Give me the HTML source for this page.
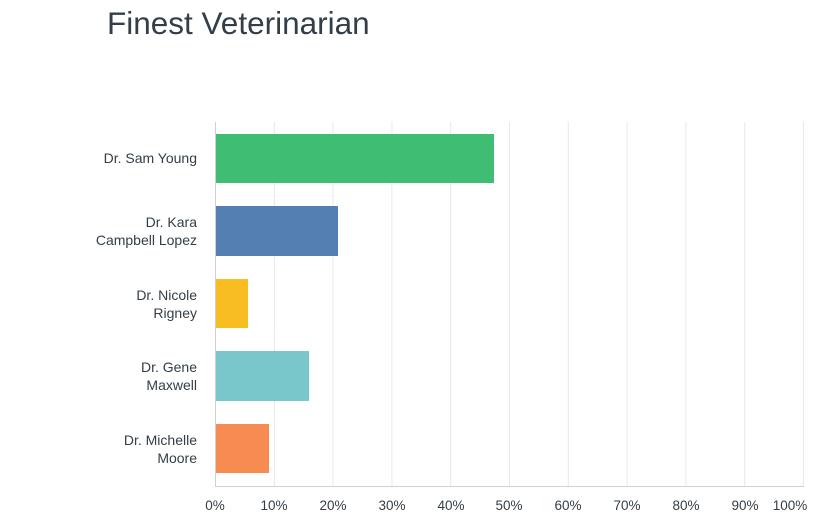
<!DOCTYPE html>
<html><head><meta charset="utf-8"><style>
body{margin:0;background:#fff;width:820px;height:525px;overflow:hidden;font-family:"Liberation Sans",sans-serif;}
</style></head><body>
<svg width="820" height="525" xmlns="http://www.w3.org/2000/svg" font-family="Liberation Sans, sans-serif">
<text x="107" y="34" font-size="31.5" fill="#333e48">Finest Veterinarian</text>
<g stroke="#e8e8e8" stroke-width="1">
<line x1="274.3" y1="122" x2="274.3" y2="487"/><line x1="333.1" y1="122" x2="333.1" y2="487"/>
<line x1="391.9" y1="122" x2="391.9" y2="487"/><line x1="450.7" y1="122" x2="450.7" y2="487"/>
<line x1="509.5" y1="122" x2="509.5" y2="487"/><line x1="568.3" y1="122" x2="568.3" y2="487"/>
<line x1="627.1" y1="122" x2="627.1" y2="487"/><line x1="685.9" y1="122" x2="685.9" y2="487"/>
<line x1="744.7" y1="122" x2="744.7" y2="487"/><line x1="803.5" y1="122" x2="803.5" y2="487"/>
</g>
<line x1="215.5" y1="122" x2="215.5" y2="487" stroke="#d0d0d0"/>
<line x1="215" y1="486.5" x2="804" y2="486.5" stroke="#d0d0d0"/>
<rect x="216" y="134" width="278" height="49" fill="#3ebd73"/>
<rect x="216" y="206" width="122" height="50" fill="#537fb3"/>
<rect x="216" y="279" width="32" height="49" fill="#f7bd22"/>
<rect x="216" y="351" width="93" height="50" fill="#79c7cb"/>
<rect x="216" y="424" width="53" height="49" fill="#f78c52"/>
<g font-size="14" fill="#333e48" text-anchor="end">
<text x="197" y="163">Dr. Sam Young</text>
<text x="197" y="227">Dr. Kara</text><text x="197" y="245">Campbell Lopez</text>
<text x="197" y="300">Dr. Nicole</text><text x="197" y="318">Rigney</text>
<text x="197" y="372">Dr. Gene</text><text x="197" y="390">Maxwell</text>
<text x="197" y="445">Dr. Michelle</text><text x="197" y="463">Moore</text>
</g>
<g font-size="13.5" fill="#333e48" text-anchor="middle">
<text x="215" y="510">0%</text><text x="274" y="510">10%</text><text x="333" y="510">20%</text>
<text x="392" y="510">30%</text><text x="451" y="510">40%</text><text x="509" y="510">50%</text>
<text x="568" y="510">60%</text><text x="627" y="510">70%</text><text x="686" y="510">80%</text>
<text x="745" y="510">90%</text><text x="790" y="510">100%</text>
</g>
</svg>
</body></html>
